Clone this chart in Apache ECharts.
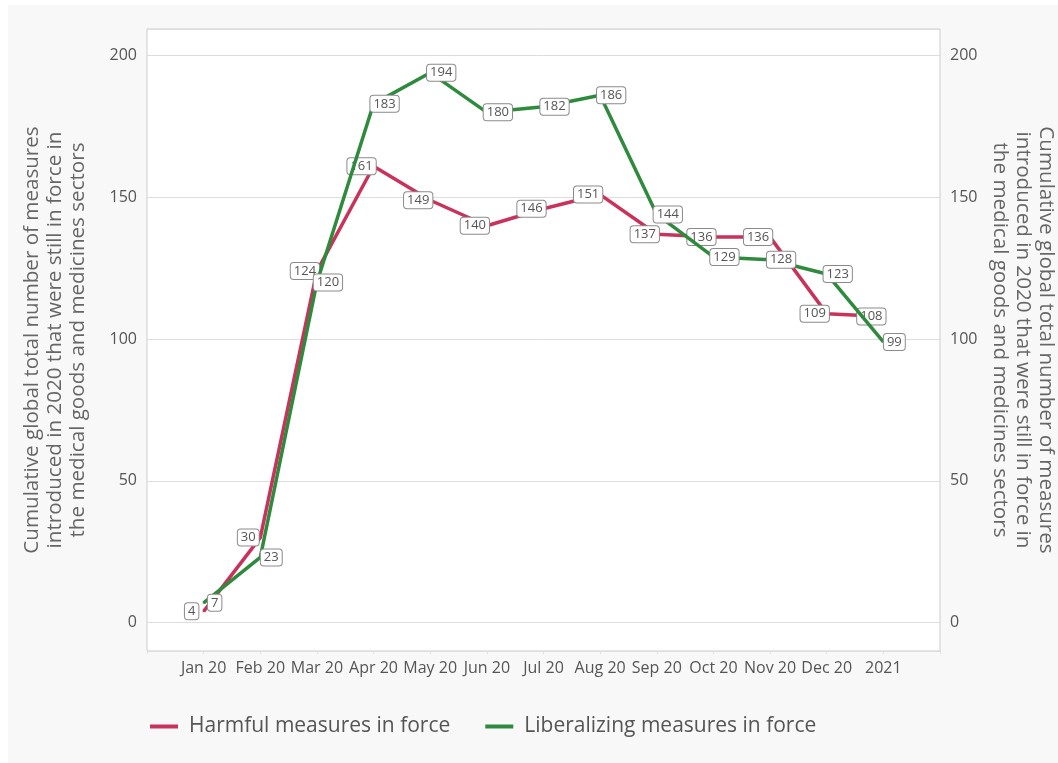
<!DOCTYPE html>
<html>
<head>
<meta charset="utf-8">
<script src="https://cdn.jsdelivr.net/npm/echarts@6/dist/echarts.min.js"></script>
<style>
html,body{margin:0;padding:0;background:#ffffff;width:1058px;height:763px;overflow:hidden;}
#c{position:absolute;left:8px;top:5px;width:1050px;height:758px;}
</style>
</head>
<body>
<div id="c"></div>
<script>
const categories = ['Jan 20','Feb 20','Mar 20','Apr 20','May 20','Jun 20','Jul 20','Aug 20','Sep 20','Oct 20','Nov 20','Dec 20','2021'];
const harmful = [4,30,124,161,149,140,146,151,137,136,136,109,108];
const liberalizing = [7,23,120,183,194,180,182,186,144,129,128,123,99];
const seriesNames = ['Harmful measures in force','Liberalizing measures in force'];
const axisTitle = 'Cumulative global total number of measures\nintroduced in 2020 that were still in force in\nthe medical goods and medicines sectors';

const FONT = 'Open Sans';
const toPairs = arr => arr.map((v,i)=>[i,v]);

function labelCfg(dx){
  return {
    show:true, position:'inside', offset:[dx,0],
    formatter:p=>p.value[1],
    color:'#555', fontFamily:FONT, fontSize:13,
    backgroundColor:'#fff', borderColor:'#8a8a8a', borderWidth:1, borderRadius:3,
    padding:[2,3,1,3]
  };
}

const chart = echarts.init(document.getElementById('c'));
chart.setOption({
  backgroundColor:'#f8f8f8',
  animation:false,
  grid:{left:139,right:118,top:24,bottom:112,outerBoundsMode:'none',containLabel:false,show:true,backgroundColor:'#ffffff',borderColor:'#cccccc',borderWidth:1},
  legend:{
    left:137, top:706, icon:'rect', itemWidth:28, itemHeight:4, itemGap:35,
    textStyle:{fontFamily:FONT,fontSize:21,color:'#555',padding:[0,0,0,6]},
    data:seriesNames
  },
  xAxis:{
    type:'value', min:-1, max:13, interval:1,
    axisLine:{show:false,onZero:false}, splitLine:{show:false},
    axisTick:{show:true,length:3,lineStyle:{color:'#e0e0e0'}},
    axisLabel:{formatter:v=>categories[v]||'', fontFamily:FONT, fontSize:16, color:'#555', margin:9}
  },
  yAxis:[{
    type:'value', min:-10, max:209.4, position:'left',
    axisLine:{show:false}, axisTick:{show:false},
    splitLine:{show:true,lineStyle:{color:'#dddddd',width:1}},
    axisLabel:{showMinLabel:false,showMaxLabel:false,fontFamily:FONT,fontSize:16,color:'#555',margin:10},
    name:axisTitle, nameLocation:'middle', nameRotate:90, nameGap:57,
    nameTextStyle:{fontFamily:FONT,fontSize:20.6,color:'#666',lineHeight:23,align:'center'}
  },{
    type:'value', min:-10, max:209.4, position:'right',
    axisLine:{show:false}, axisTick:{show:false}, splitLine:{show:false},
    axisLabel:{showMinLabel:false,showMaxLabel:false,fontFamily:FONT,fontSize:16,color:'#555',margin:10},
    name:axisTitle, nameLocation:'middle', nameRotate:-90, nameGap:47,
    nameTextStyle:{fontFamily:FONT,fontSize:20.6,color:'#666',lineHeight:23,align:'center'}
  }],
  series:[{
    name:seriesNames[0], type:'line', data:toPairs(harmful),
    symbol:'circle', symbolSize:2, color:'#c8325b',
    lineStyle:{width:3.5,color:'#c8325b'}, itemStyle:{color:'#c8325b'},
    label:labelCfg(-12), z:2
  },{
    name:seriesNames[1], type:'line', data:toPairs(liberalizing),
    symbol:'circle', symbolSize:2, color:'#2e8a3c',
    lineStyle:{width:3.5,color:'#2e8a3c'}, itemStyle:{color:'#2e8a3c'},
    label:labelCfg(11), z:3
  }]
});
</script>
</body>
</html>
